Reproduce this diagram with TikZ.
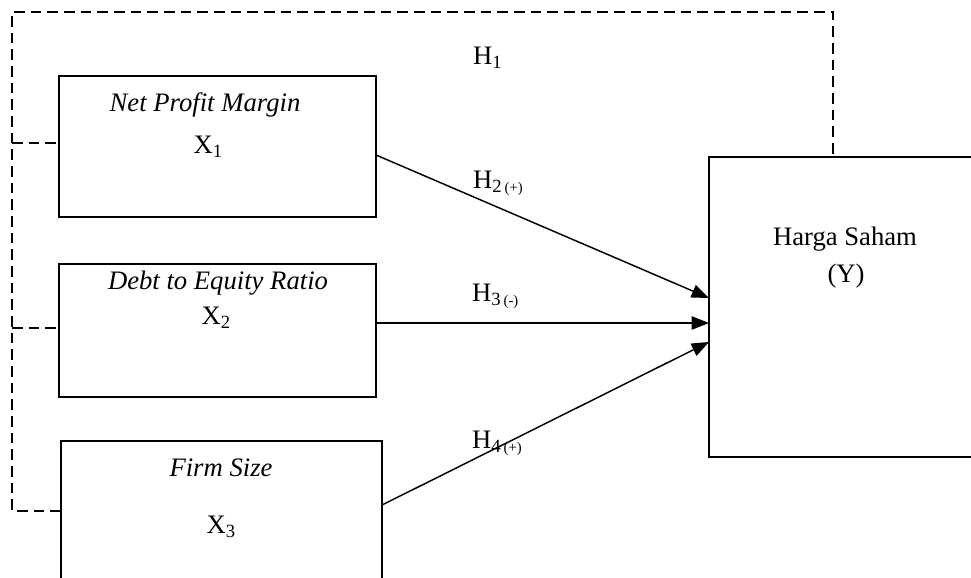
\documentclass[tikz,border=0pt]{standalone}
\usepackage{fontspec}
\setmainfont{Liberation Serif}
\usetikzlibrary{arrows.meta}

% subscript helpers
\newcommand\subidx[1]{\raisebox{-0.17em}{\fontsize{14}{14}\selectfont #1}}
\newcommand\hyp[2]{H\raisebox{-0.17em}{\fontsize{14}{14}\selectfont #1\,\fontsize{11}{11}\selectfont(#2)}}

\tikzset{
  varbox/.style={draw, line width=1.5pt, inner sep=0pt, outer sep=0pt, rectangle},
  txt/.style={inner sep=0pt, outer sep=0pt, anchor=base, font=\fontsize{20}{23}\selectfont},
  hlabel/.style={inner sep=0pt, outer sep=0pt, anchor=base west, font=\fontsize{20}{23}\selectfont},
  arr/.style={line width=1.1pt, -{Triangle[length=13pt,width=10pt]}},
  link/.style={line width=1.8pt, dash pattern=on 8pt off 4.5pt}
}

\begin{document}
\begin{tikzpicture}[x=0.75pt, y=-0.75pt]
  \useasboundingbox (0,0) rectangle (971,578);
  \clip (0,0) rectangle (971,578);

  % independent variables
  \node[varbox, minimum width=237.75pt, minimum height=105.75pt] (b1) at (217.5,146.5) {};
  \node[varbox, minimum width=237.75pt, minimum height=99.75pt]  (b2) at (217.5,330.5) {};
  \node[varbox, minimum width=240.75pt, minimum height=119.25pt] (b3) at (221.5,520.5) {};
  % dependent variable
  \node[varbox, minimum width=203.25pt, minimum height=225pt]    (y)  at (844.5,307) {};

  % box texts
  \node[txt] (t1) at (205,111) {\itshape Net Profit Margin};
  \node[txt] (x1) at (208,153) {X\subidx{1}};
  \node[txt] (t2) at (218,289) {\itshape Debt to Equity Ratio};
  \node[txt] (x2) at (216,324) {X\subidx{2}};
  \node[txt] (t3) at (221,476) {\itshape Firm Size};
  \node[txt] (x3) at (221,533) {X\subidx{3}};
  \node[txt] (ty) at (845,245) {Harga Saham};
  \node[txt] (yy) at (846,282) {(Y)};

  % simultaneous path (dashed)
  \coordinate (c1) at (12,143);
  \coordinate (c2) at (12,328);
  \coordinate (c3) at (12,511);
  \coordinate (tl) at (12,12);
  \coordinate (tr) at (833,12);
  \draw[link] (b3.west |- c3) -- (c3) -- (tl) -- (tr) -- (tr |- y.north);
  \draw[link] (c1) -- (b1.west |- c1);
  \draw[link] (c2) -- (b2.west |- c2);

  % partial effects
  \draw[arr] (b1.east |- 0,155) -- (y.west |- 0,298);
  \draw[arr] (b2.east |- 0,323) -- (y.west |- 0,323);
  \draw[arr] (b3.east |- 0,505) -- (y.west |- 0,342);

  % hypothesis labels
  \node[hlabel] (h1) at (473,64)  {H\subidx{1}};
  \node[hlabel] (h2) at (473,188) {\hyp{2}{+}};
  \node[hlabel] (h3) at (472,301) {\hyp{3}{-}};
  \node[hlabel] (h4) at (472,448) {\hyp{4}{+}};
\end{tikzpicture}
\end{document}
